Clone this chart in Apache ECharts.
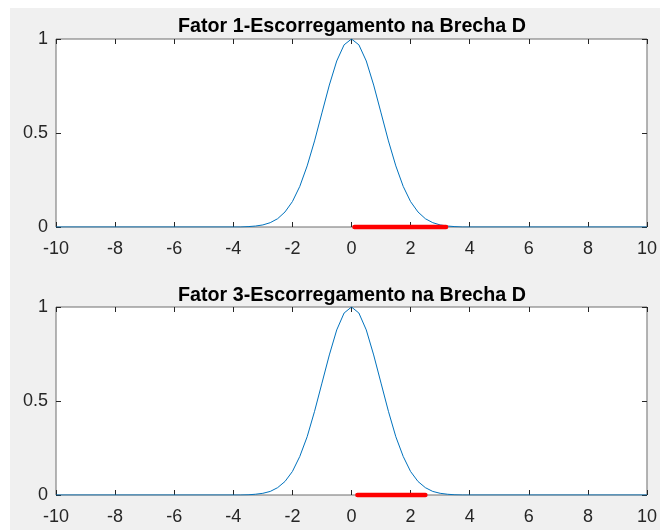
<!DOCTYPE html>
<html>
<head>
<meta charset="utf-8">
<script src="https://cdn.jsdelivr.net/npm/echarts@6/dist/echarts.min.js"></script>
<style>
  html, body { margin: 0; padding: 0; background: #ffffff; }
  #chart { width: 660px; height: 530px; }
</style>
</head>
<body>
<div id="chart"></div>
<script>
// Panel titles
const panelTitles = ['Fator 1-Escorregamento na Brecha D', 'Fator 3-Escorregamento na Brecha D'];

// Axis ranges and ticks
const xMin = -10, xMax = 10, xStep = 2;
const yMin = 0, yMax = 1, yStep = 0.5;

// Sample positions of the membership curves
const curveX = [-10, -4, -3.75, -3.5, -3.25, -3, -2.75, -2.5, -2.25, -2, -1.75, -1.5, -1.25, -1, -0.75, -0.5, -0.25,
                0, 0.25, 0.5, 0.75, 1, 1.25, 1.5, 1.75, 2, 2.25, 2.5, 2.75, 3, 3.25, 3.5, 3.75, 4, 10];

// Curve values, factor 1
const factor1Y = [0, 0, 0, 0.002, 0.005, 0.011, 0.023, 0.044, 0.08, 0.135, 0.216, 0.325, 0.458, 0.607, 0.755, 0.883, 0.969,
                  1, 0.969, 0.883, 0.755, 0.607, 0.458, 0.325, 0.216, 0.135, 0.08, 0.044, 0.023, 0.011, 0.005, 0.002, 0, 0, 0];

// Curve values, factor 3
const factor3Y = [0, 0, 0, 0.001, 0.004, 0.009, 0.019, 0.039, 0.072, 0.125, 0.205, 0.31, 0.445, 0.595, 0.745, 0.878, 0.968,
                  1, 0.968, 0.878, 0.745, 0.595, 0.445, 0.31, 0.205, 0.125, 0.072, 0.039, 0.019, 0.009, 0.004, 0.001, 0, 0, 0];

// Highlighted intervals on the x axis (start, end)
const factor1Range = [0.1, 3.2];
const factor3Range = [0.2, 2.5];

const FONT = '"Liberation Sans", Arial, Helvetica, sans-serif';
const INK = '#262626';

const grids = [
  { left: 56, top: 39, width: 592, height: 188 },
  { left: 56, top: 307, width: 592, height: 188 }
].map(g => Object.assign({
  show: true, backgroundColor: '#ffffff', borderColor: '#6e6e6e', borderWidth: 1
}, g));

function xAxisFor(gridIndex, position, labels) {
  return {
    type: 'value', gridIndex, position, min: xMin, max: xMax, interval: xStep,
    axisLine: { show: false, onZero: false },
    axisTick: { show: true, inside: true, length: 5, lineStyle: { color: INK, width: 1 } },
    axisLabel: { show: labels, fontFamily: FONT, fontSize: 18, color: INK, margin: 13 },
    splitLine: { show: false }
  };
}
function yAxisFor(gridIndex, position, labels) {
  return {
    type: 'value', gridIndex, position, min: yMin, max: yMax, interval: yStep,
    axisLine: { show: false, onZero: false },
    axisTick: { show: true, inside: true, length: 5, lineStyle: { color: INK, width: 1 } },
    axisLabel: { show: labels, fontFamily: FONT, fontSize: 18, color: INK, margin: 8 },
    splitLine: { show: false }
  };
}

const zip = (xs, ys) => xs.map((x, i) => [x, ys[i]]);

function curveSeries(axisIndex, ys) {
  return {
    type: 'line', xAxisIndex: axisIndex, yAxisIndex: axisIndex,
    data: zip(curveX, ys), showSymbol: false, smooth: false, silent: true,
    lineStyle: { color: '#0072BD', width: 1 }, z: 3
  };
}
function rangeSeries(axisIndex, range) {
  return {
    type: 'line', xAxisIndex: axisIndex, yAxisIndex: axisIndex,
    data: [[range[0], 0], [range[1], 0]], showSymbol: false, silent: true, clip: false,
    lineStyle: { color: '#ff0000', width: 4.5, cap: 'round' }, z: 4
  };
}

const chart = echarts.init(document.getElementById('chart'), null, { renderer: 'canvas' });
chart.setOption({
  animation: false,
  backgroundColor: '#f0f0f0',
  title: panelTitles.map((t, i) => ({
    text: t, left: 347, top: i === 0 ? 12 : 281, textAlign: 'center',
    textStyle: { fontFamily: FONT, fontSize: 19.7, fontWeight: 'bold', color: '#000000' }
  })),
  grid: grids,
  xAxis: [xAxisFor(0, 'bottom', true), xAxisFor(0, 'top', false), xAxisFor(1, 'bottom', true), xAxisFor(1, 'top', false)],
  yAxis: [yAxisFor(0, 'left', true), yAxisFor(0, 'right', false), yAxisFor(1, 'left', true), yAxisFor(1, 'right', false)],
  series: [
    curveSeries(0, factor1Y),
    curveSeries(2, factor3Y),
    rangeSeries(0, factor1Range),
    rangeSeries(2, factor3Range)
  ],
  graphic: [
    { type: 'rect', left: 0, top: 0, shape: { width: 660, height: 8 }, style: { fill: '#ffffff' }, silent: true },
    { type: 'rect', left: 0, top: 0, shape: { width: 10, height: 530 }, style: { fill: '#ffffff' }, silent: true }
  ]
});
</script>
</body>
</html>
